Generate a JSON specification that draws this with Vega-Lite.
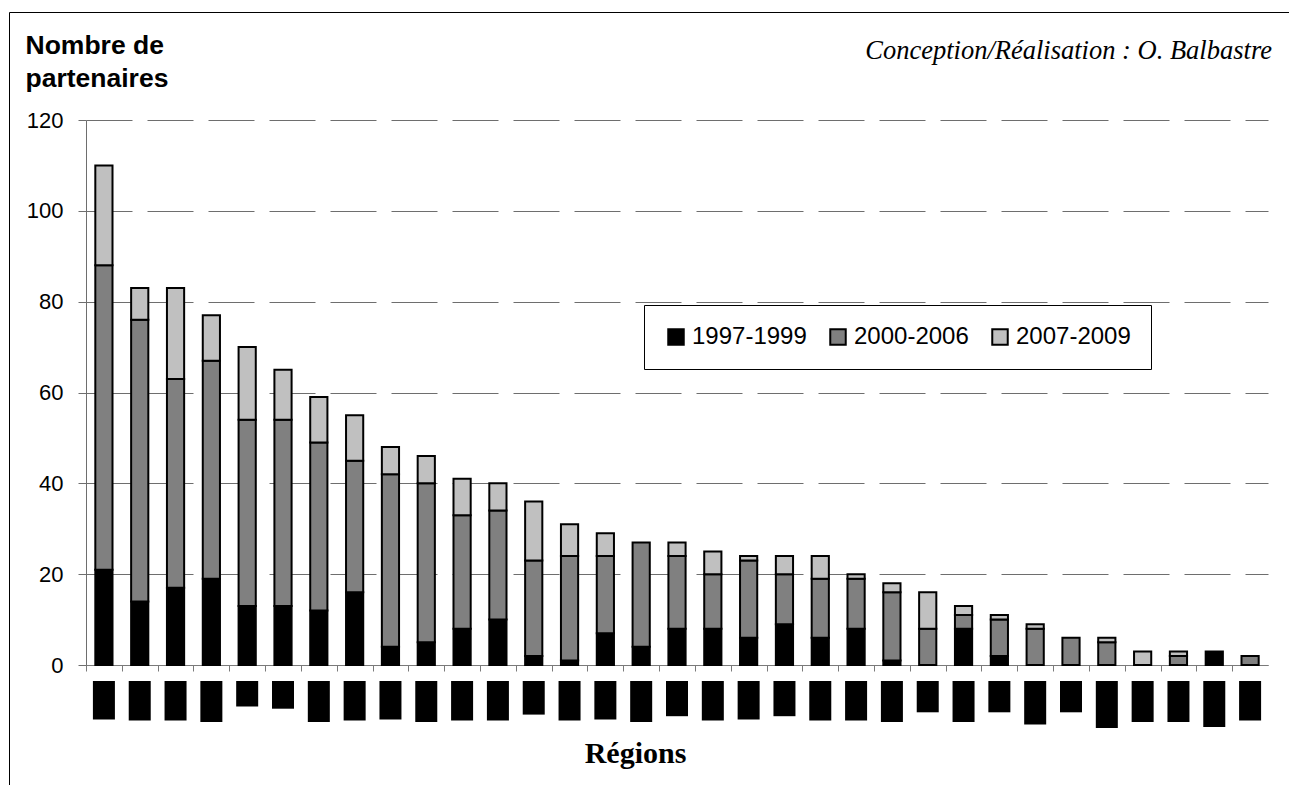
{
  "$schema": "https://vega.github.io/schema/vega-lite/v6.json",
  "autosize": {"type": "none"},
  "width": 1281,
  "height": 774,
  "padding": {"left": 9, "top": 12, "right": -1, "bottom": -1},
  "config": {
    "font": "Liberation Sans",
    "view": {"stroke": "black", "strokeWidth": 1}
  },
  "title": {
    "text": "Conception/Réalisation : O. Balbastre",
    "anchor": "end",
    "frame": "group",
    "orient": "top",
    "offset": -73,
    "baseline": "alphabetic",
    "dx": -18,
    "font": "Liberation Serif",
    "fontStyle": "italic",
    "fontWeight": "normal",
    "fontSize": 26.5,
    "color": "black"
  },
  "datasets": {
    "partenaires": [
      {"region": "R01", "periode": "1997-1999", "n": 21}, {"region": "R01", "periode": "2000-2006", "n": 67}, {"region": "R01", "periode": "2007-2009", "n": 22},
      {"region": "R02", "periode": "1997-1999", "n": 14}, {"region": "R02", "periode": "2000-2006", "n": 62}, {"region": "R02", "periode": "2007-2009", "n": 7},
      {"region": "R03", "periode": "1997-1999", "n": 17}, {"region": "R03", "periode": "2000-2006", "n": 46}, {"region": "R03", "periode": "2007-2009", "n": 20},
      {"region": "R04", "periode": "1997-1999", "n": 19}, {"region": "R04", "periode": "2000-2006", "n": 48}, {"region": "R04", "periode": "2007-2009", "n": 10},
      {"region": "R05", "periode": "1997-1999", "n": 13}, {"region": "R05", "periode": "2000-2006", "n": 41}, {"region": "R05", "periode": "2007-2009", "n": 16},
      {"region": "R06", "periode": "1997-1999", "n": 13}, {"region": "R06", "periode": "2000-2006", "n": 41}, {"region": "R06", "periode": "2007-2009", "n": 11},
      {"region": "R07", "periode": "1997-1999", "n": 12}, {"region": "R07", "periode": "2000-2006", "n": 37}, {"region": "R07", "periode": "2007-2009", "n": 10},
      {"region": "R08", "periode": "1997-1999", "n": 16}, {"region": "R08", "periode": "2000-2006", "n": 29}, {"region": "R08", "periode": "2007-2009", "n": 10},
      {"region": "R09", "periode": "1997-1999", "n": 4}, {"region": "R09", "periode": "2000-2006", "n": 38}, {"region": "R09", "periode": "2007-2009", "n": 6},
      {"region": "R10", "periode": "1997-1999", "n": 5}, {"region": "R10", "periode": "2000-2006", "n": 35}, {"region": "R10", "periode": "2007-2009", "n": 6},
      {"region": "R11", "periode": "1997-1999", "n": 8}, {"region": "R11", "periode": "2000-2006", "n": 25}, {"region": "R11", "periode": "2007-2009", "n": 8},
      {"region": "R12", "periode": "1997-1999", "n": 10}, {"region": "R12", "periode": "2000-2006", "n": 24}, {"region": "R12", "periode": "2007-2009", "n": 6},
      {"region": "R13", "periode": "1997-1999", "n": 2}, {"region": "R13", "periode": "2000-2006", "n": 21}, {"region": "R13", "periode": "2007-2009", "n": 13},
      {"region": "R14", "periode": "1997-1999", "n": 1}, {"region": "R14", "periode": "2000-2006", "n": 23}, {"region": "R14", "periode": "2007-2009", "n": 7},
      {"region": "R15", "periode": "1997-1999", "n": 7}, {"region": "R15", "periode": "2000-2006", "n": 17}, {"region": "R15", "periode": "2007-2009", "n": 5},
      {"region": "R16", "periode": "1997-1999", "n": 4}, {"region": "R16", "periode": "2000-2006", "n": 23},
      {"region": "R17", "periode": "1997-1999", "n": 8}, {"region": "R17", "periode": "2000-2006", "n": 16}, {"region": "R17", "periode": "2007-2009", "n": 3},
      {"region": "R18", "periode": "1997-1999", "n": 8}, {"region": "R18", "periode": "2000-2006", "n": 12}, {"region": "R18", "periode": "2007-2009", "n": 5},
      {"region": "R19", "periode": "1997-1999", "n": 6}, {"region": "R19", "periode": "2000-2006", "n": 17}, {"region": "R19", "periode": "2007-2009", "n": 1},
      {"region": "R20", "periode": "1997-1999", "n": 9}, {"region": "R20", "periode": "2000-2006", "n": 11}, {"region": "R20", "periode": "2007-2009", "n": 4},
      {"region": "R21", "periode": "1997-1999", "n": 6}, {"region": "R21", "periode": "2000-2006", "n": 13}, {"region": "R21", "periode": "2007-2009", "n": 5},
      {"region": "R22", "periode": "1997-1999", "n": 8}, {"region": "R22", "periode": "2000-2006", "n": 11}, {"region": "R22", "periode": "2007-2009", "n": 1},
      {"region": "R23", "periode": "1997-1999", "n": 1}, {"region": "R23", "periode": "2000-2006", "n": 15}, {"region": "R23", "periode": "2007-2009", "n": 2},
      {"region": "R24", "periode": "2000-2006", "n": 8}, {"region": "R24", "periode": "2007-2009", "n": 8},
      {"region": "R25", "periode": "1997-1999", "n": 8}, {"region": "R25", "periode": "2000-2006", "n": 3}, {"region": "R25", "periode": "2007-2009", "n": 2},
      {"region": "R26", "periode": "1997-1999", "n": 2}, {"region": "R26", "periode": "2000-2006", "n": 8}, {"region": "R26", "periode": "2007-2009", "n": 1},
      {"region": "R27", "periode": "2000-2006", "n": 8}, {"region": "R27", "periode": "2007-2009", "n": 1},
      {"region": "R28", "periode": "2000-2006", "n": 6},
      {"region": "R29", "periode": "2000-2006", "n": 5}, {"region": "R29", "periode": "2007-2009", "n": 1},
      {"region": "R30", "periode": "2007-2009", "n": 3},
      {"region": "R31", "periode": "2000-2006", "n": 2}, {"region": "R31", "periode": "2007-2009", "n": 1},
      {"region": "R32", "periode": "1997-1999", "n": 3},
      {"region": "R33", "periode": "2000-2006", "n": 2}
    ],
    "etiquettes": [
      {"region": "R01", "longueur": 38.5}, {"region": "R02", "longueur": 39.5}, {"region": "R03", "longueur": 39.5},
      {"region": "R04", "longueur": 41}, {"region": "R05", "longueur": 25.5}, {"region": "R06", "longueur": 27.7},
      {"region": "R07", "longueur": 41}, {"region": "R08", "longueur": 39.5}, {"region": "R09", "longueur": 38.5},
      {"region": "R10", "longueur": 41}, {"region": "R11", "longueur": 39.5}, {"region": "R12", "longueur": 39.5},
      {"region": "R13", "longueur": 33.6}, {"region": "R14", "longueur": 39.5}, {"region": "R15", "longueur": 38.5},
      {"region": "R16", "longueur": 41}, {"region": "R17", "longueur": 35.2}, {"region": "R18", "longueur": 39.5},
      {"region": "R19", "longueur": 38.5}, {"region": "R20", "longueur": 35.2}, {"region": "R21", "longueur": 39.5},
      {"region": "R22", "longueur": 39.5}, {"region": "R23", "longueur": 41}, {"region": "R24", "longueur": 31.3},
      {"region": "R25", "longueur": 41}, {"region": "R26", "longueur": 31.3}, {"region": "R27", "longueur": 43.4},
      {"region": "R28", "longueur": 31.3}, {"region": "R29", "longueur": 47}, {"region": "R30", "longueur": 41},
      {"region": "R31", "longueur": 41}, {"region": "R32", "longueur": 46}, {"region": "R33", "longueur": 39.5}
    ]
  },
  "layer": [
    {
      "data": {"name": "partenaires"},
      "mark": {"type": "bar", "stroke": "black", "strokeWidth": 2},
      "encoding": {
        "x": {
          "field": "region",
          "type": "nominal",
          "sort": null,
          "scale": {"range": [77, 1259], "paddingInner": 0.52, "paddingOuter": 0.26},
          "axis": {
            "orient": "bottom",
            "offset": -121,
            "labels": false,
            "ticks": true,
            "tickSize": 6,
            "tickOffset": -17.91,
            "tickColor": "#7a7a7a",
            "domainColor": "#7a7a7a",
            "grid": false,
            "title": "Régions",
            "titleFont": "Liberation Serif",
            "titleFontSize": 30,
            "titleFontWeight": "bold",
            "titleColor": "black",
            "titleX": 626,
            "titleY": 97,
            "titleAlign": "center",
            "titleBaseline": "alphabetic"
          }
        },
        "y": {
          "field": "n",
          "type": "quantitative",
          "stack": "zero",
          "scale": {"domain": [0, 120], "range": [653, 108]},
          "axis": {
            "orient": "left",
            "offset": -77,
            "values": [0, 20, 40, 60, 80, 100, 120],
            "grid": true,
            "gridDash": [46, 15],
            "gridColor": "#6e6e6e",
            "gridWidth": 1,
            "domainColor": "#6e6e6e",
            "tickColor": "#6e6e6e",
            "tickSize": 8,
            "labelFontSize": 22,
            "labelColor": "black",
            "labelPadding": 15,
            "title": ["Nombre de", "partenaires"],
            "titleAngle": 0,
            "titleAlign": "left",
            "titleBaseline": "alphabetic",
            "titleX": -61,
            "titleY": 41,
            "titleFontSize": 26.5,
            "titleFontWeight": "bold",
            "titleColor": "black",
            "titleLineHeight": 33
          }
        },
        "order": {"field": "periode", "type": "ordinal", "sort": "ascending"},
        "color": {
          "field": "periode",
          "type": "nominal",
          "scale": {"domain": ["1997-1999", "2000-2006", "2007-2009"], "range": ["#000000", "#808080", "#c0c0c0"]},
          "legend": {
            "orient": "none",
            "legendX": 635,
            "legendY": 293,
            "direction": "horizontal",
            "title": null,
            "strokeColor": "black",
            "fillColor": "white",
            "padding": 20,
            "symbolType": "square",
            "symbolSize": 240,
            "symbolStrokeColor": "black",
            "symbolStrokeWidth": 2,
            "symbolOpacity": 1,
            "labelFontSize": 24,
            "labelColor": "black",
            "labelOffset": 4,
            "labelLimit": 300,
            "columnPadding": 19
          }
        }
      }
    },
    {
      "data": {"name": "etiquettes"},
      "mark": {"type": "bar", "color": "black", "width": {"band": 1.28}},
      "encoding": {
        "x": {
          "field": "region",
          "type": "nominal",
          "sort": null,
          "scale": {"range": [77, 1259], "paddingInner": 0.52, "paddingOuter": 0.26}
        },
        "y": {
          "field": "longueur",
          "type": "quantitative",
          "scale": {"domain": [0, 48], "range": [669, 717]},
          "axis": null
        }
      }
    }
  ],
  "resolve": {"scale": {"y": "independent"}}
}
